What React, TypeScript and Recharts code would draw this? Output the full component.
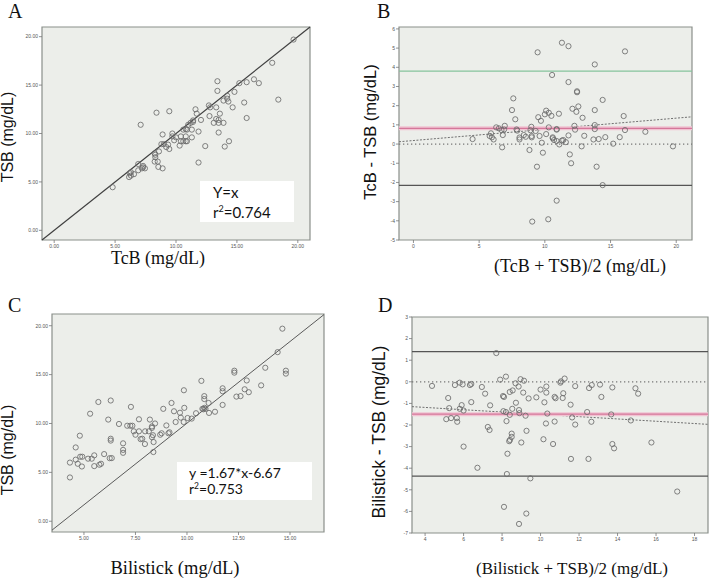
import React from 'react';
import { ScatterChart, Scatter, XAxis, YAxis, ReferenceLine, ReferenceArea } from 'recharts';

// ---------- Panel A: TcB vs TSB ----------
const pointsA: [number, number][] = [
  [19.65,19.7],[17.9,17.3],[18.4,13.5],[16.4,15.6],[16.8,15.2],[15.8,15.3],[15.8,11.6],[15.6,13.2],
  [13.4,15.4],[13.4,14.4],[14.8,14.3],[15.2,15.2],[14.2,13.9],[14.3,13.3],[14.65,12.7],[13.9,13.4],
  [13.3,12.7],[12.8,12.7],[13.6,12.05],[12.75,11.8],[13.5,11.4],[13.9,11.1],[13.1,11.1],[13.3,11.5],
  [13.5,10.1],[14.35,9.2],[14.0,8.65],[12.4,8.7],[11.85,7.0],[11.85,10.2],[11.6,12.5],[11.7,12.05],
  [12.05,11.4],[11.4,11.35],[11.2,11.1],[11.0,10.9],[10.8,10.45],[11.3,10.4],[10.9,10.4],[11.3,9.6],
  [10.8,9.7],[10.9,9.2],[10.6,9.2],[10.3,8.75],[10.4,9.7],[10.0,9.6],[9.85,9.3],[9.7,10.0],
  [9.45,12.3],[8.4,12.15],[7.1,10.9],[8.9,9.9],[9.35,8.85],[9.45,8.4],[9.2,8.6],[8.8,8.9],
  [8.6,8.15],[8.25,7.95],[8.3,7.55],[8.25,7.1],[8.5,7.1],[8.55,6.55],[8.9,6.4],[7.3,6.65],
  [7.45,6.4],[7.2,6.4],[6.9,6.85],[6.9,6.2],[6.55,5.8],[6.3,6.0],[6.3,5.65],[6.15,5.5],
  [4.8,4.45],[10.4,9.2],[10.8,9.2],[13.5,11.1],[14.2,13.6],[9.7,9.7],[11.4,11.2],[10.6,10.4],
  [9.0,8.9],[8.3,7.8],[6.2,5.9],[7.3,6.5],[12.7,12.9]
];
const identityA: [number, number][] = [[-1, -1], [21, 21]];

// ---------- Panel B: Bland-Altman TcB / TSB ----------
const pointsB: [number, number][] = [
  [11.3,5.28],[11.8,5.1],[9.45,4.78],[16.1,4.83],[13.8,4.15],[10.55,3.6],[11.8,3.23],[12.45,2.7],
  [12.45,2.75],[14.4,2.3],[7.6,2.38],[7.5,1.77],[7.75,1.29],[10.1,1.74],[10.3,1.63],[10.0,1.55],
  [9.7,1.21],[9.5,1.4],[10.5,1.47],[11.07,1.58],[12.1,1.84],[12.55,1.96],[12.4,1.68],[12.87,1.37],
  [13.8,1.77],[16.0,1.46],[13.8,0.99],[13.8,0.78],[12.25,0.95],[12.3,0.75],[10.9,0.75],[10.3,0.87],
  [8.97,0.9],[8.9,0.72],[7.85,0.76],[6.9,0.76],[6.95,0.95],[6.3,0.87],[6.7,0.73],[6.8,0.47],
  [5.9,0.56],[5.97,0.35],[6.1,0.24],[5.8,0.42],[4.5,0.26],[6.75,-0.17],[8.07,0.24],[8.07,0.34],
  [8.4,0.47],[8.55,0.38],[9.0,0.42],[9.0,0.35],[9.3,0.68],[9.6,0.42],[10.1,0.52],[10.6,0.35],
  [10.7,0.21],[10.9,0.16],[11.1,-0.02],[11.4,0.21],[11.6,0.1],[11.8,0.45],[9.77,0.07],[8.83,-0.31],
  [9.85,-0.45],[9.4,-1.18],[11.9,-0.54],[12.0,-1.0],[12.8,-0.12],[13.0,0.43],[13.7,0.24],[14.1,0.26],
  [14.6,0.36],[15.2,0.02],[15.7,0.36],[16.1,0.73],[17.65,0.64],[19.75,-0.12],[13.94,-1.18],[14.4,-2.14],
  [10.9,-2.95],[9.04,-4.04],[10.26,-3.92],[10.9,0.78],[6.5,0.82],[7.9,0.7],[10.6,0.3],[11.3,0.18]
];
const upperB = 3.8;
const meanB = 0.82;
const lowerB = -2.15;
const trendB: [number, number][] = [[-1.1, 0.12], [21.2, 1.42]];

// ---------- Panel C: Bilistick vs TSB ----------
const pointsC: [number, number][] = [
  [14.63,19.7],[14.4,17.3],[14.8,15.4],[14.8,15.1],[13.8,15.7],[13.6,13.9],[12.9,14.4],[12.8,13.5],
  [13.0,13.2],[12.6,12.8],[12.4,12.75],[12.3,15.4],[12.3,15.2],[11.73,13.6],[11.73,13.3],[11.73,11.9],
  [11.36,11.2],[11.07,11.08],[11.05,12.1],[10.84,12.8],[10.84,12.5],[10.7,14.36],[10.75,11.5],[10.9,11.5],
  [10.44,11.05],[10.23,10.5],[10.03,10.56],[9.87,11.6],[9.85,13.4],[9.84,10.15],[9.7,10.6],[9.66,11.1],
  [9.25,12.1],[9.37,11.25],[9.45,10.15],[8.85,11.5],[9.0,9.8],[9.1,9.0],[9.15,9.1],[8.77,9.0],
  [8.7,8.85],[8.45,10.0],[8.3,9.7],[8.3,9.55],[8.2,10.4],[8.35,8.8],[8.3,8.6],[8.38,8.1],
  [8.37,7.08],[8.15,9.2],[7.97,9.2],[7.96,7.9],[7.83,8.44],[7.67,9.2],[7.67,10.43],[7.35,9.77],
  [7.25,9.77],[7.1,9.77],[7.28,11.7],[7.42,9.2],[7.5,8.85],[7.75,8.4],[6.7,9.95],[6.18,10.4],
  [6.3,12.35],[5.7,12.2],[5.3,11.0],[6.3,8.44],[6.3,8.25],[6.9,7.97],[6.9,7.3],[6.9,7.0],
  [6.35,6.46],[5.98,6.87],[5.83,5.88],[5.75,5.78],[5.5,6.74],[5.38,6.4],[5.2,6.4],[5.5,5.64],
  [4.92,6.6],[4.82,6.6],[4.9,5.6],[4.8,8.75],[4.6,7.55],[4.6,6.3],[4.7,5.88],[4.32,6.0],
  [4.32,4.48],[10.8,11.45],[6.25,6.45],[10.85,11.6]
];
const fitC: [number, number][] = [[3.45, -0.91], [16.65, 21.14]];

// ---------- Panel D: Bland-Altman Bilistick / TSB ----------
const pointsD: [number, number][] = [
  [7.7,1.33],[4.36,-0.19],[5.2,-0.75],[5.55,-0.15],[5.8,-0.04],[5.95,-0.12],[6.33,-0.15],[6.4,-0.1],
  [6.95,-0.24],[7.12,-0.55],[6.4,-0.94],[7.38,-1.09],[5.9,-1.08],[5.25,-1.22],[5.8,-1.25],[6.0,-1.33],
  [5.1,-1.73],[5.35,-1.68],[5.65,-1.68],[5.67,-1.85],[6.0,-3.0],[6.72,-3.98],[7.26,-2.09],[7.35,-2.23],
  [7.9,0.1],[8.2,0.24],[8.05,-0.66],[8.07,-1.36],[8.23,-1.82],[8.4,-1.53],[8.53,-1.25],[8.4,-0.47],
  [8.55,-0.4],[8.7,-0.07],[8.86,-0.22],[8.72,-0.97],[8.5,-2.4],[8.5,-2.55],[8.41,-2.69],[8.37,-2.75],
  [8.28,-3.33],[8.25,-4.27],[8.1,-5.79],[8.88,-6.58],[9.26,-6.1],[9.47,-4.47],[9.27,-2.27],[9.0,-2.81],
  [8.88,-1.31],[8.9,-1.45],[9.22,-1.57],[8.96,0.12],[9.14,0.05],[9.1,-0.5],[9.38,-0.77],[9.78,-0.72],
  [10.0,-0.36],[10.2,-0.95],[10.3,-0.22],[10.3,-0.5],[10.35,-1.47],[10.28,-1.93],[10.15,-2.66],[10.65,-2.88],
  [10.73,-1.84],[10.73,-0.7],[10.78,-0.76],[11.06,0.02],[11.03,-0.04],[11.25,0.15],[11.18,-0.53],[11.15,-0.75],
  [11.56,-1.06],[11.64,-1.65],[11.8,-1.98],[11.8,-0.2],[11.58,-3.57],[12.49,-3.57],[12.42,-1.4],[12.64,-1.85],
  [12.52,-0.29],[12.66,-0.15],[13.09,-0.13],[13.16,-0.7],[13.67,-1.51],[13.73,-0.26],[13.73,-2.88],[13.82,-3.08],
  [14.69,-1.79],[14.93,-0.3],[15.07,-0.55],[15.76,-2.81],[17.1,-5.08],[8.2,-1.4],[8.1,-0.7]
];
const upperD = 1.4;
const meanD = -1.5;
const lowerD = -4.37;
const trendD: [number, number][] = [[3.32, -1.15], [18.7, -1.97]];

// ---------- Axis ticks ----------
const ticksA = [0, 5, 10, 15, 20];
const ticksBx = [0, 5, 10, 15, 20];
const ticksBy = [-5, -4, -3, -2, -1, 0, 1, 2, 3, 4, 5, 6];
const ticksCx = [5, 7.5, 10, 12.5, 15];
const ticksCy = [0, 5, 10, 15, 20];
const ticksDx = [4, 6, 8, 10, 12, 14, 16, 18];
const ticksDy = [-7, -6, -5, -4, -3, -2, -1, 0, 1, 2, 3];

const BG = '#eceeea';
const FRAME = '#8a8f8a';
const DOT = '#6c6c6c';
const DOTTED = '1.3 2.7';

const toXY = (arr: [number, number][]) => arr.map(([x, y]) => ({ x, y }));

const Ring = (props: any) => {
  if (props.cx == null || props.cy == null) return null;
  return <circle cx={props.cx} cy={props.cy} r={2.6} fill="none" stroke={DOT} strokeWidth={0.85} />;
};

const fix2 = (v: number) => v.toFixed(2);
const int = (v: number) => String(v);

type Cfg = {
  left: number; top: number; width: number; height: number;
  margin: { top: number; right: number; bottom: number; left: number };
  xDomain: [number, number]; yDomain: [number, number];
  xTicks: number[]; yTicks: number[];
  xFmt: (v: number) => string; yFmt: (v: number) => string;
  data: [number, number][];
  extras: React.ReactNode[];
};

function panel(cfg: Cfg, key: string) {
  const tickStyle = { fontSize: 5, fill: '#555', fontFamily: 'Liberation Sans, Arial, sans-serif' };
  return (
    <div key={key} style={{ position: 'absolute', left: cfg.left, top: cfg.top, width: cfg.width, height: cfg.height }}>
      <ScatterChart width={cfg.width} height={cfg.height} margin={cfg.margin}>
        <XAxis type="number" dataKey="x" domain={cfg.xDomain} ticks={cfg.xTicks} allowDataOverflow
          interval={0} tickFormatter={cfg.xFmt} tick={tickStyle} tickSize={3} tickMargin={1}
          tickLine={{ stroke: '#777', strokeWidth: 0.8 }} axisLine={false} height={14} />
        <YAxis type="number" dataKey="y" domain={cfg.yDomain} ticks={cfg.yTicks} allowDataOverflow
          interval={0} tickFormatter={cfg.yFmt} tick={tickStyle} tickSize={3} tickMargin={1}
          tickLine={{ stroke: '#777', strokeWidth: 0.8 }} axisLine={false} width={30} />
        <ReferenceArea x1={cfg.xDomain[0]} x2={cfg.xDomain[1]} y1={cfg.yDomain[0]} y2={cfg.yDomain[1]}
          fill={BG} fillOpacity={1} stroke={FRAME} strokeWidth={1.2} ifOverflow="visible" />
        {cfg.extras}
        <Scatter data={toXY(cfg.data)} shape={Ring} isAnimationActive={false} />
      </ScatterChart>
    </div>
  );
}

const seg = (s: [number, number][]) => [{ x: s[0][0], y: s[0][1] }, { x: s[1][0], y: s[1][1] }] as any;

export default function App() {
  const cfgA: Cfg = {
    left: 0, top: 0, width: 355, height: 289,
    margin: { top: 27, right: 45, bottom: 35, left: 12 },
    xDomain: [-1, 21], yDomain: [-1, 21], xTicks: ticksA, yTicks: ticksA, xFmt: fix2, yFmt: fix2,
    data: pointsA,
    extras: [
      <ReferenceLine key="idA" segment={seg(identityA)} stroke="#3f3f3f" strokeWidth={1.2} ifOverflow="visible" />,
    ],
  };
  const cfgB: Cfg = {
    left: 355, top: 0, width: 354, height: 289,
    margin: { top: 27, right: 17, bottom: 35, left: 14 },
    xDomain: [-1.1, 21.2], yDomain: [-5, 6.1], xTicks: ticksBx, yTicks: ticksBy, xFmt: int, yFmt: int,
    data: pointsB,
    extras: [
      <ReferenceLine key="zB" y={0} stroke="#777" strokeWidth={1.3} strokeDasharray={DOTTED} />,
      <ReferenceLine key="tB" segment={seg(trendB)} stroke="#707070" strokeWidth={1} strokeDasharray="2 1.5" ifOverflow="visible" />,
      <ReferenceLine key="uB" y={upperB} stroke="#86c39c" strokeWidth={1.3} />,
      <ReferenceLine key="mB1" y={meanB} stroke="#f1c3d2" strokeWidth={4} />,
      <ReferenceLine key="mB2" y={meanB} stroke="#d4779a" strokeWidth={1.2} />,
      <ReferenceLine key="lB" y={lowerB} stroke="#555" strokeWidth={1.3} />,
    ],
  };
  const cfgC: Cfg = {
    left: 0, top: 289, width: 355, height: 289,
    margin: { top: 25, right: 31, bottom: 32, left: 22 },
    xDomain: [3.45, 16.65], yDomain: [-1.1, 21.2], xTicks: ticksCx, yTicks: ticksCy, xFmt: fix2, yFmt: fix2,
    data: pointsC,
    extras: [
      <ReferenceLine key="fC" segment={seg(fitC)} stroke="#5a5a5a" strokeWidth={1} ifOverflow="visible" />,
    ],
  };
  const cfgD: Cfg = {
    left: 355, top: 289, width: 354, height: 289,
    margin: { top: 28, right: 1, bottom: 31, left: 27 },
    xDomain: [3.32, 18.7], yDomain: [-7, 3], xTicks: ticksDx, yTicks: ticksDy, xFmt: int, yFmt: int,
    data: pointsD,
    extras: [
      <ReferenceLine key="zD" y={0} stroke="#777" strokeWidth={1.3} strokeDasharray={DOTTED} />,
      <ReferenceLine key="tD" segment={seg(trendD)} stroke="#707070" strokeWidth={1} strokeDasharray="2 1.5" ifOverflow="visible" />,
      <ReferenceLine key="uD" y={upperD} stroke="#555" strokeWidth={1.3} />,
      <ReferenceLine key="mD1" y={meanD} stroke="#f1c3d2" strokeWidth={4} />,
      <ReferenceLine key="mD2" y={meanD} stroke="#d4779a" strokeWidth={1.2} />,
      <ReferenceLine key="lD" y={lowerD} stroke="#555" strokeWidth={1.3} />,
    ],
  };

  const serif = 'Liberation Serif, Times New Roman, serif';
  const sans = 'Liberation Sans, Arial, sans-serif';
  const boxFont = 'Lato, Open Sans, sans-serif';

  return (
    <div style={{ position: 'absolute', left: 0, top: 0, width: 709, height: 578, background: '#fff', overflow: 'hidden' }}>
      {panel(cfgA, 'A')}
      {panel(cfgB, 'B')}
      {panel(cfgC, 'C')}
      {panel(cfgD, 'D')}
      <svg width={709} height={578} style={{ position: 'absolute', left: 0, top: 0, pointerEvents: 'none' }}>
        {/* panel letters */}
        <text x={8} y={18} fontFamily={serif} fontSize={20} fill="#111">A</text>
        <text x={377} y={18} fontFamily={serif} fontSize={20} fill="#111">B</text>
        <text x={8} y={312} fontFamily={serif} fontSize={20} fill="#111">C</text>
        <text x={378} y={312} fontFamily={serif} fontSize={20} fill="#111">D</text>

        {/* axis titles */}
        <text x={158} y={264} textAnchor="middle" fontFamily={serif} fontSize={18} fill="#111">TcB (mg/dL)</text>
        <text transform="translate(13,137) rotate(-90)" textAnchor="middle" fontFamily={sans} fontSize={16} fill="#111">TSB (mg/dL)</text>

        <text x={580} y={272} textAnchor="middle" fontFamily={serif} fontSize={18} fill="#111">(TcB + TSB)/2 (mg/dL)</text>
        <text transform="translate(376,132) rotate(-90)" textAnchor="middle" fontFamily={sans} fontSize={16.5} fill="#111">TcB - TSB (mg/dL)</text>

        <text x={175} y={574} textAnchor="middle" fontFamily={serif} fontSize={18.5} fill="#111">Bilistick (mg/dL)</text>
        <text transform="translate(13,450) rotate(-90)" textAnchor="middle" fontFamily={sans} fontSize={16} fill="#111">TSB (mg/dL)</text>

        <text x={572} y={574} textAnchor="middle" fontFamily={serif} fontSize={17} fill="#111">(Bilistick + TSB)/2 (mg/dL)</text>
        <text transform="translate(385,432) rotate(-90)" textAnchor="middle" fontFamily={sans} fontSize={17.5} fill="#111">Bilistick - TSB (mg/dL)</text>

        {/* annotation boxes */}
        <rect x={200} y={181} width={94} height={41} fill="#fff" />
        <text x={213} y={198} fontFamily={boxFont} fontSize={15} fill="#111">Y=x</text>
        <text x={213} y={218} fontFamily={boxFont} fontSize={15} fill="#111">r<tspan fontSize={9} dy={-6}>2</tspan><tspan dy={6}>=0.764</tspan></text>

        <rect x={177} y={462} width={135} height={38} fill="#fff" />
        <text x={189} y={478} fontFamily={boxFont} fontSize={14} fill="#111">y =1.67*x-6.67</text>
        <text x={189} y={494} fontFamily={boxFont} fontSize={14} fill="#111">r<tspan fontSize={8.5} dy={-5.5}>2</tspan><tspan dy={5.5}>=0.753</tspan></text>
      </svg>
    </div>
  );
}
